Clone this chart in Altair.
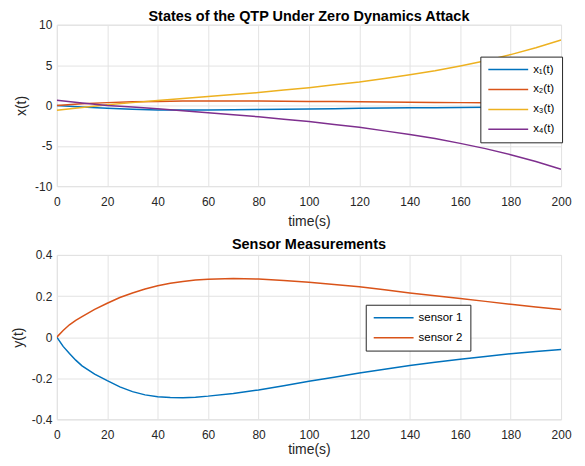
import altair as alt
import pandas as pd

t_top = [0, 10, 20, 30, 40, 50, 60, 70, 80, 90, 100, 110, 120, 130, 140, 150, 160, 170, 180, 190, 200]
x1 = [0.0, -0.2, -0.35, -0.47, -0.55, -0.57, -0.56, -0.53, -0.5, -0.47, -0.44, -0.4, -0.36, -0.33, -0.3, -0.27, -0.24, -0.21, -0.19, -0.17, -0.15]
x2 = [0.0, 0.2, 0.35, 0.45, 0.5, 0.54, 0.56, 0.56, 0.55, 0.53, 0.5, 0.48, 0.45, 0.43, 0.4, 0.38, 0.35, 0.33, 0.3, 0.28, 0.25]
x3 = [-0.6, -0.25, 0.1, 0.35, 0.6, 0.85, 1.1, 1.35, 1.6, 1.9, 2.2, 2.55, 2.9, 3.35, 3.8, 4.3, 4.9, 5.55, 6.3, 7.15, 8.1]
x4 = [0.65, 0.3, 0.0, -0.2, -0.4, -0.65, -0.9, -1.15, -1.4, -1.7, -2.0, -2.35, -2.7, -3.15, -3.6, -4.1, -4.7, -5.35, -6.1, -6.95, -7.9]

t_bot = [0, 2.5, 5, 7.5, 10, 15, 20, 25, 30, 35, 40, 45, 50, 55, 60, 70, 80, 90, 100, 110, 120, 130, 140, 150, 160, 170, 180, 190, 200]
s1 = [0.0, -0.045, -0.08, -0.112, -0.14, -0.18, -0.212, -0.242, -0.265, -0.281, -0.29, -0.294, -0.295, -0.292, -0.287, -0.274, -0.257, -0.237, -0.215, -0.195, -0.175, -0.156, -0.138, -0.122, -0.108, -0.094, -0.081, -0.07, -0.06]
s2 = [0.0, 0.032, 0.06, 0.082, 0.1, 0.135, 0.165, 0.193, 0.215, 0.234, 0.25, 0.262, 0.271, 0.278, 0.282, 0.285, 0.283, 0.276, 0.267, 0.256, 0.245, 0.23, 0.215, 0.201, 0.188, 0.174, 0.16, 0.147, 0.135]

state_names = ["x₁(t)", "x₂(t)", "x₃(t)", "x₄(t)"]
sensor_names = ["sensor 1", "sensor 2"]
colors4 = ["#0072BD", "#D95319", "#EDB120", "#7E2F8E"]
colors2 = ["#0072BD", "#D95319"]
x_ticks = list(range(0, 201, 20))
y_ticks_top = [-10, -5, 0, 5, 10]
y_ticks_bot = [-0.4, -0.2, 0, 0.2, 0.4]

rows = []
for name, vals in zip(state_names, [x1, x2, x3, x4]):
    for t, v in zip(t_top, vals):
        rows.append({"t": t, "v": v, "s": name})
df_top = pd.DataFrame(rows)

rows = []
for name, vals in zip(sensor_names, [s1, s2]):
    for t, v in zip(t_bot, vals):
        rows.append({"t": t, "v": v, "s": name})
df_bot = pd.DataFrame(rows)

FONT = "Liberation Sans"
MINUS_FIX = "replace(datum.label, '\u2212', '-')"


def axis_cfg(title, vals, fmt, x_axis, title_pad=7):
    return alt.Axis(title=title, values=vals, format=fmt, labelExpr=MINUS_FIX,
                    grid=True, gridColor="#e3e3e3", ticks=False, domain=False,
                    labelFontSize=12, titleFontSize=14, labelColor="#262626",
                    titleColor="#262626", titleFontWeight="normal",
                    labelFont=FONT, titleFont=FONT,
                    labelPadding=10 if x_axis else 5, titlePadding=title_pad if x_axis else 6,
                    labelFlush=False, labelOverlap=False)


legend_common = dict(title=None, orient="none", symbolType="M-1,0H7", symbolSize=100,
                     symbolStrokeWidth=1.5, labelFontSize=11.5, labelFont=FONT,
                     labelColor="#000000", strokeColor="#262626", fillColor="white",
                     padding=7, rowPadding=8, labelOffset=34, symbolOffset=0)

title_common = dict(fontSize=14.5, font=FONT, fontWeight="bold", color="#000000")

top = alt.Chart(df_top).mark_line(strokeWidth=1.5, clip=True).encode(
    x=alt.X("t:Q", scale=alt.Scale(domain=[0, 200], nice=False),
            axis=axis_cfg("time(s)", x_ticks, "d", True)),
    y=alt.Y("v:Q", scale=alt.Scale(domain=[-10, 10], nice=False),
            axis=axis_cfg("x(t)", y_ticks_top, "d", False)),
    color=alt.Color("s:N", scale=alt.Scale(domain=state_names, range=colors4),
                    legend=alt.Legend(legendX=425, legendY=32, **legend_common)),
).properties(width=506, height=162,
             title=alt.TitleParams("States of the QTP Under Zero Dynamics Attack",
                                   offset=-6, **title_common))

bot = alt.Chart(df_bot).mark_line(strokeWidth=1.5, clip=True).encode(
    x=alt.X("t:Q", scale=alt.Scale(domain=[0, 200], nice=False),
            axis=axis_cfg("time(s)", x_ticks, "d", True, title_pad=2)),
    y=alt.Y("v:Q", scale=alt.Scale(domain=[-0.4, 0.4], nice=False),
            axis=axis_cfg("y(t)", y_ticks_bot, "~g", False)),
    color=alt.Color("s:N", scale=alt.Scale(domain=sensor_names, range=colors2),
                    legend=alt.Legend(legendX=310, legendY=50, **legend_common)),
).properties(width=506, height=165,
             title=alt.TitleParams("Sensor Measurements", offset=-4, **title_common))

chart = alt.vconcat(top, bot, spacing=8).resolve_scale(color="independent").configure_view(
    stroke="#262626", strokeWidth=1
).properties(padding={"left": 2, "top": 0, "right": 5, "bottom": 0}).configure(background="white")

chart.save("out.html", embed_options={"renderer": "svg", "actions": False})
